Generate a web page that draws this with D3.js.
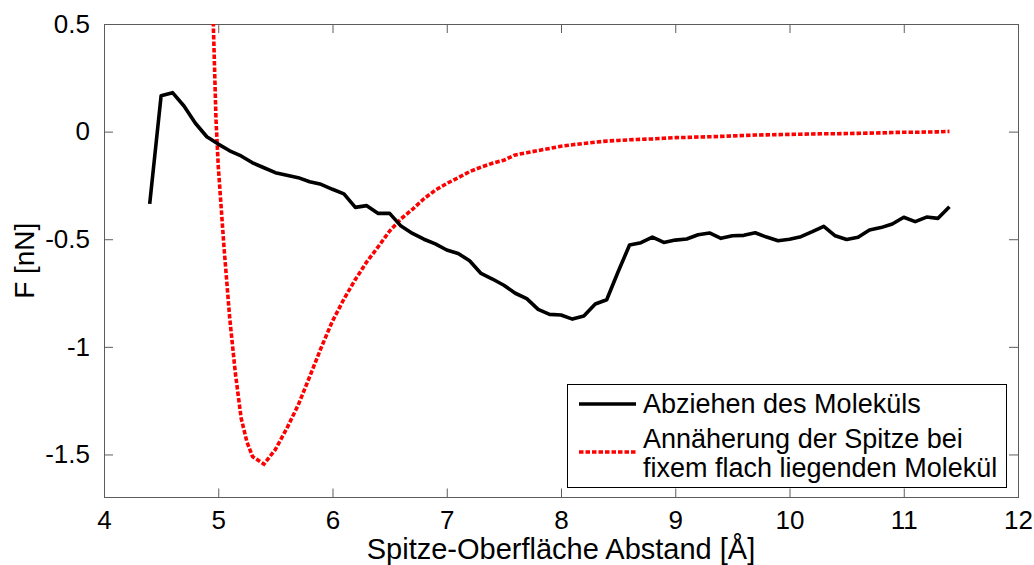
<!DOCTYPE html>
<html>
<head>
<meta charset="utf-8">
<script src="https://cdn.jsdelivr.net/npm/d3@7"></script>
<style>
  html, body { margin: 0; padding: 0; background: #fff; }
  svg { display: block; font-family: Arial, "Liberation Sans", Helvetica, sans-serif; }
</style>
</head>
<body>
<svg id="chart" width="1034" height="565"></svg>
<script>
// Tip–surface distance [Å] for the pull-off curve (0.1 Å steps)
const pullX = [4.4,4.5,4.6,4.7,4.8,4.9,5.0,5.1,5.2,5.3,5.4,5.5,5.6,5.7,5.8,5.9,6.0,6.1,6.2,6.3,6.4,6.5,6.6,6.7,6.8,6.9,7.0,7.1,7.2,7.3,7.4,7.5,7.6,7.7,7.8,7.9,8.0,8.1,8.2,8.3,8.4,8.5,8.6,8.7,8.8,8.9,9.0,9.1,9.2,9.3,9.4,9.5,9.6,9.7,9.8,9.9,10.0,10.1,10.2,10.3,10.4,10.5,10.6,10.7,10.8,10.9,11.0,11.1,11.2,11.3,11.4];
// Force [nN] while pulling the molecule off
const pullF = [-0.336,0.167,0.181,0.119,0.039,-0.024,-0.058,-0.089,-0.113,-0.145,-0.168,-0.191,-0.203,-0.214,-0.233,-0.245,-0.268,-0.289,-0.352,-0.344,-0.380,-0.380,-0.439,-0.473,-0.500,-0.522,-0.550,-0.566,-0.600,-0.659,-0.685,-0.714,-0.751,-0.776,-0.826,-0.849,-0.852,-0.871,-0.857,-0.801,-0.781,-0.651,-0.527,-0.516,-0.490,-0.515,-0.504,-0.499,-0.479,-0.471,-0.496,-0.484,-0.482,-0.470,-0.490,-0.507,-0.500,-0.488,-0.465,-0.440,-0.484,-0.501,-0.491,-0.457,-0.446,-0.429,-0.398,-0.418,-0.397,-0.403,-0.349];

// Tip–surface distance [Å] for the approach curve over the flat-lying molecule
const approachX = [4.95,4.98,5.0,5.05,5.1,5.15,5.2,5.25,5.3,5.4,5.5,5.6,5.7,5.8,5.9,6.0,6.1,6.2,6.3,6.4,6.5,6.6,6.7,6.8,6.9,7.0,7.1,7.2,7.3,7.4,7.5,7.6,7.7,7.8,7.9,8.0,8.1,8.2,8.3,8.4,8.5,8.6,8.7,8.8,8.9,9.0,9.1,9.2,9.3,9.4,9.5,9.6,9.7,9.8,9.9,10.0,10.1,10.2,10.3,10.4,10.5,10.6,10.7,10.8,10.9,11.0,11.1,11.2,11.3,11.4];
// Force [nN] during the approach
const approachF = [0.63,0.06,-0.16,-0.535,-0.865,-1.123,-1.33,-1.44,-1.51,-1.545,-1.477,-1.379,-1.27,-1.139,-1.005,-0.88,-0.778,-0.687,-0.605,-0.535,-0.462,-0.405,-0.361,-0.312,-0.272,-0.241,-0.214,-0.186,-0.165,-0.147,-0.133,-0.108,-0.098,-0.088,-0.078,-0.068,-0.061,-0.055,-0.049,-0.044,-0.041,-0.038,-0.036,-0.034,-0.031,-0.028,-0.027,-0.025,-0.024,-0.022,-0.020,-0.018,-0.016,-0.015,-0.014,-0.013,-0.012,-0.011,-0.010,-0.010,-0.009,-0.008,-0.007,-0.006,-0.004,-0.003,-0.003,-0.002,-0.001,0.001];

const xTicks = [4,5,6,7,8,9,10,11,12];
const yTicks = [0.5,0,-0.5,-1,-1.5];
const xDomain = [4, 12];
const yDomain = [-1.7, 0.5];

const seriesNames = ["Abziehen des Moleküls", ["Annäherung der Spitze bei", "fixem flach liegenden Molekül"]];
const xTitle = "Spitze-Oberfläche Abstand [Å]";
const yTitle = "F [nN]";

const svg = d3.select("#chart");
const plotL = 104, plotR = 1018, plotT = 24, plotB = 497.5;
const axisColor = "#5c5c5c";

const x = d3.scaleLinear().domain(xDomain).range([plotL, plotR]);
const y = d3.scaleLinear().domain(yDomain).range([plotB, plotT]);

const fmt = d => (d === 0 ? "0" : String(d));

// plot-area clip
svg.append("defs").append("clipPath").attr("id", "plotClip")
  .append("rect").attr("x", plotL).attr("y", plotT)
  .attr("width", plotR - plotL).attr("height", plotB - plotT);

// axes: ticks point inward on all four sides
function styleAxis(g, showText) {
  g.select(".domain").remove();
  g.selectAll(".tick line").attr("stroke", axisColor).attr("stroke-width", 1);
  if (!showText) g.selectAll(".tick text").remove();
  else g.selectAll(".tick text").attr("fill", "#000").style("font-size", "26px");
}

svg.append("g").attr("transform", `translate(0,${plotB})`)
  .call(d3.axisBottom(x).tickValues(xTicks).tickFormat(fmt).tickSizeInner(-9).tickSizeOuter(0).tickPadding(13))
  .call(g => styleAxis(g, true));

svg.append("g").attr("transform", `translate(0,${plotT})`)
  .call(d3.axisTop(x).tickValues(xTicks).tickSizeInner(-9).tickSizeOuter(0))
  .call(g => styleAxis(g, false));

svg.append("g").attr("transform", `translate(${plotL},0)`)
  .call(d3.axisLeft(y).tickValues(yTicks).tickFormat(fmt).tickSizeInner(-9).tickSizeOuter(0).tickPadding(14))
  .call(g => styleAxis(g, true));

svg.append("g").attr("transform", `translate(${plotR},0)`)
  .call(d3.axisRight(y).tickValues(yTicks).tickSizeInner(-9).tickSizeOuter(0))
  .call(g => styleAxis(g, false));

// axes box
svg.append("rect")
  .attr("x", plotL + 0.5).attr("y", plotT + 0.5)
  .attr("width", plotR - plotL).attr("height", plotB - plotT - 0.5)
  .attr("fill", "none").attr("stroke", axisColor).attr("stroke-width", 1);

const line = d3.line().x(d => x(d[0])).y(d => y(d[1]));

const plot = svg.append("g").attr("clip-path", "url(#plotClip)");

plot.append("path")
  .datum(d3.zip(approachX, approachF))
  .attr("d", line)
  .attr("fill", "none").attr("stroke", "#ff0000")
  .attr("stroke-width", 3.6).attr("stroke-dasharray", "4.5 2")
  .attr("stroke-linejoin", "miter");

plot.append("path")
  .datum(d3.zip(pullX, pullF))
  .attr("d", line)
  .attr("fill", "none").attr("stroke", "#000")
  .attr("stroke-width", 3.6).attr("stroke-linejoin", "round");

// axis titles
svg.append("text")
  .attr("x", (plotL + plotR) / 2).attr("y", 559)
  .attr("text-anchor", "middle").style("font-size", "29px")
  .text(xTitle);

svg.append("text")
  .attr("transform", `translate(34,${(plotT + plotB) / 2}) rotate(-90)`)
  .attr("text-anchor", "middle").style("font-size", "28px")
  .text(yTitle);

// legend
const lg = svg.append("g");
lg.append("rect").attr("x", 567.5).attr("y", 384.5).attr("width", 439).attr("height", 103)
  .attr("fill", "#fff").attr("stroke", "#000").attr("stroke-width", 1);
lg.append("line").attr("x1", 579).attr("x2", 636).attr("y1", 404).attr("y2", 404)
  .attr("stroke", "#000").attr("stroke-width", 3.6);
lg.append("text").attr("x", 643).attr("y", 413).style("font-size", "27px").text(seriesNames[0]);
lg.append("line").attr("x1", 579).attr("x2", 636).attr("y1", 452).attr("y2", 452)
  .attr("stroke", "#ff0000").attr("stroke-width", 3.6).attr("stroke-dasharray", "4.5 2");
const t2 = lg.append("text").attr("x", 643).attr("y", 448).style("font-size", "27px");
t2.append("tspan").attr("x", 643).text(seriesNames[1][0]);
t2.append("tspan").attr("x", 643).attr("dy", 29).text(seriesNames[1][1]);
</script>
</body>
</html>
